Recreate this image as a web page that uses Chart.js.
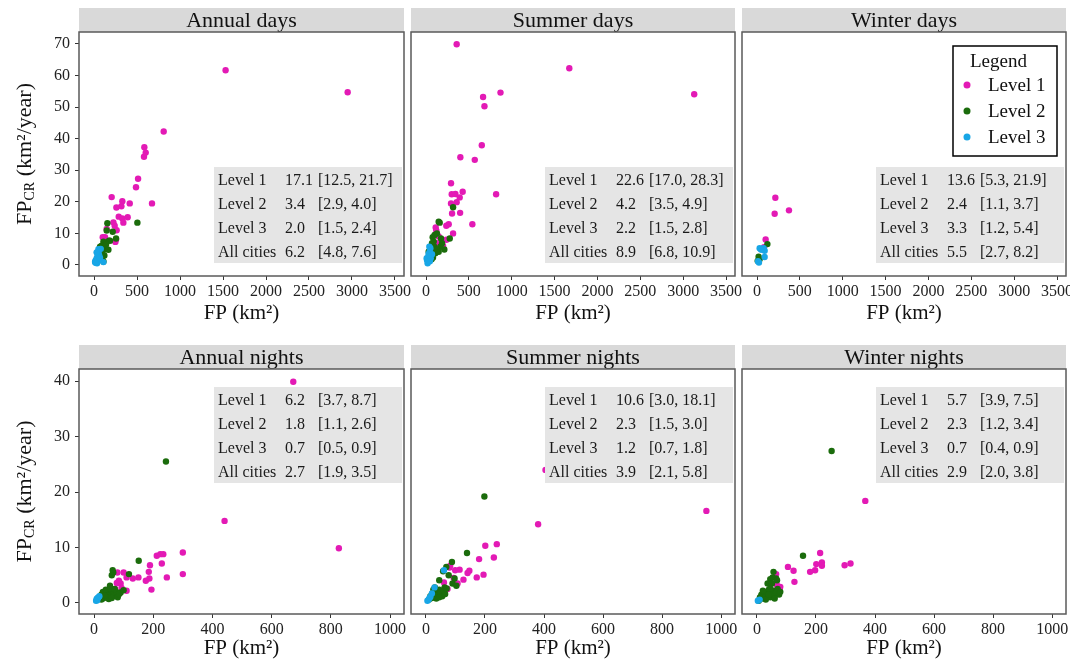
<!DOCTYPE html>
<html>
<head>
<meta charset="utf-8">
<script src="https://cdn.jsdelivr.net/npm/chart.js"></script>
<style>
  html, body { margin: 0; padding: 0; background: #fff; width: 1070px; height: 667px; overflow: hidden; position: relative; }
  canvas { position: absolute; left: 0; }
</style>
</head>
<body>
<canvas id="c0"></canvas>
<canvas id="c1"></canvas>
<canvas id="c2"></canvas>
<canvas id="c3"></canvas>
<canvas id="c4"></canvas>
<canvas id="c5"></canvas>
<script>
// --- DATA ---
const levelNames = ['Level 1', 'Level 2', 'Level 3'];
const statRows = ['Level 1', 'Level 2', 'Level 3', 'All cities'];

const xTicksDays = [0, 500, 1000, 1500, 2000, 2500, 3000, 3500];
const yTicksDays = [0, 10, 20, 30, 40, 50, 60, 70];
const xTicksNights = [0, 200, 400, 600, 800, 1000];
const yTicksNights = [0, 10, 20, 30, 40];

// points as [FP, FPcr]
const annualDaysL1 = [[1530,61.7],[2950,54.7],[810,42.3],[585,37.3],[601,35.6],[581,34.3],[512,27.3],[488,24.6],[674,19.5],[205,21.5],[329,20.2],[318,18.6],[415,19.5],[260,18.2],[287,15.3],[329,14.7],[391,15.1],[341,13.4],[225,13.5],[240,12.4],[263,11.0],[147,11.4],[128,8.8],[101,8.8],[256,8.1],[248,7.3],[81,3.7],[116,5.5],[132,5.3],[89,4.0]];
const annualDaysL2 = [[504,13.4],[155,13.2],[147,10.9],[217,10.5],[256,8.4],[174,7.7],[186,7.7],[109,7.4],[89,6.1],[128,5.0],[62,4.2],[167,4.8],[78,2.1],[109,1.1],[58,1.6],[51,2.6],[70,5.8],[89,3.2],[120,3.0],[95,2.4],[140,6.5],[60,3.6],[100,4.5]];
const annualDaysL3 = [[31,2.1],[23,0.7],[43,3.2],[54,4.2],[78,5.1],[12,1.0],[35,0.5],[58,1.6],[51,5.0],[109,0.9],[40,2.5],[20,1.5],[60,3.0],[30,4.0],[15,0.8],[70,2.2]];

const summerDaysL1 = [[358,69.9],[1672,62.3],[3129,54.1],[869,54.6],[666,53.2],[682,50.3],[651,37.9],[401,34.1],[569,33.3],[292,25.9],[300,22.4],[343,22.5],[428,23.2],[393,21.4],[358,19.9],[292,19.5],[818,22.4],[304,16.3],[398,16.5],[541,12.9],[265,12.9],[237,12.4],[113,11.9],[316,10.0],[120,10.9],[148,9.0],[187,8.0],[128,6.9],[199,6.0],[238,8.0],[109,4.8]];
const summerDaysL2 = [[316,18.3],[148,13.7],[160,13.4],[78,8.8],[128,10.0],[277,8.4],[214,4.9],[175,8.4],[70,6.9],[97,5.8],[51,4.8],[109,3.7],[148,4.2],[58,3.2],[82,2.4],[168,5.8],[187,6.9],[31,4.2],[90,7.4],[120,5.0],[65,1.8],[100,9.5]];
const summerDaysL3 = [[12,1.6],[19,0.5],[31,2.8],[43,4.2],[51,5.3],[8,2.1],[70,3.4],[23,1.0],[55,2.1],[39,5.8],[30,3.5],[45,1.2]];

const winterDaysL1 = [[214,21.3],[206,16.2],[373,17.3],[101,8.1],[82,5.6]];
const winterDaysL2 = [[121,6.6],[19,2.6],[31,1.8],[8,1.3]];
const winterDaysL3 = [[31,5.3],[78,5.3],[58,4.9],[89,4.5],[89,2.5],[12,1.2],[23,0.8],[47,4.9]];

const annualNightsL1 = [[673,39.9],[441,14.8],[827,9.85],[300,9.1],[300,5.2],[246,4.6],[194,2.4],[212,8.5],[224,8.8],[234,8.8],[229,7.1],[189,6.8],[185,5.6],[187,4.4],[175,4.0],[150,4.6],[131,4.4],[100,5.5],[79,5.5],[110,4.6],[84,4.0],[90,3.5],[77,3.6],[110,2.2],[71,2.5],[93,2.7]];
const annualNightsL2 = [[243,25.5],[151,7.6],[63,5.9],[65,5.5],[60,5.0],[118,5.2],[54,3.1],[90,1.9],[20,1.0],[25,1.5],[30,0.8],[35,1.8],[40,1.2],[45,2.0],[50,1.5],[55,1.0],[60,2.2],[65,1.6],[70,1.3],[75,2.0],[80,1.0],[85,1.6],[30,2.0],[40,2.4],[50,0.7],[55,2.6],[45,0.9],[70,2.5],[25,0.6],[35,1.3],[60,0.9],[100,2.3],[15,0.7]];
const annualNightsL3 = [[9,0.7],[11,0.5],[15,1.0],[7,0.4],[12,0.9],[18,1.2]];

const summerNightsL1 = [[405,24.0],[950,16.6],[380,14.2],[240,10.6],[201,10.3],[230,8.2],[180,7.9],[195,5.1],[147,5.8],[141,5.4],[114,6.0],[172,4.6],[127,4.2],[94,4.5],[80,6.4],[82,6.7],[61,3.7],[73,2.5],[56,2.0],[103,3.3],[107,3.5],[99,5.9]];
const summerNightsL2 = [[198,19.2],[139,9.0],[88,7.4],[69,6.5],[77,5.0],[97,4.4],[90,3.5],[103,3.1],[63,2.8],[58,5.7],[45,4.1],[10,0.6],[15,1.2],[20,0.9],[25,1.6],[30,1.1],[35,2.0],[40,1.4],[45,2.4],[50,1.8],[55,1.2],[60,2.2],[35,0.8],[25,2.4],[45,1.0],[65,1.6],[30,2.8],[70,2.6]];
const summerNightsL3 = [[61,5.9],[29,2.8],[9,0.6],[15,1.1],[20,1.7],[5,0.4],[12,0.9]];

const winterNightsL1 = [[367,18.4],[214,9.0],[220,7.3],[220,6.7],[201,7.0],[197,5.9],[180,5.6],[317,7.1],[297,6.8],[105,6.5],[124,5.8],[127,3.8],[65,5.2],[79,2.9],[77,2.3],[68,3.2],[53,2.1]];
const winterNightsL2 = [[253,27.4],[156,8.5],[56,5.6],[53,4.6],[45,4.3],[65,4.4],[36,3.5],[51,3.5],[68,4.1],[6,0.4],[10,1.0],[15,1.5],[20,0.8],[25,2.0],[30,1.2],[35,1.8],[40,2.4],[45,1.0],[50,1.6],[55,2.2],[60,1.3],[65,1.9],[70,2.5],[75,1.5],[20,2.2],[30,0.6],[45,2.6],[60,0.8],[79,2.0],[40,1.5]];
const winterNightsL3 = [[3,0.4],[9,0.6]];

// stats table: mean and 95% interval
const annualDaysMean = ['17.1', '3.4', '2.0', '6.2'];
const annualDaysCI = ['[12.5, 21.7]', '[2.9, 4.0]', '[1.5, 2.4]', '[4.8, 7.6]'];
const summerDaysMean = ['22.6', '4.2', '2.2', '8.9'];
const summerDaysCI = ['[17.0, 28.3]', '[3.5, 4.9]', '[1.5, 2.8]', '[6.8, 10.9]'];
const winterDaysMean = ['13.6', '2.4', '3.3', '5.5'];
const winterDaysCI = ['[5.3, 21.9]', '[1.1, 3.7]', '[1.2, 5.4]', '[2.7, 8.2]'];
const annualNightsMean = ['6.2', '1.8', '0.7', '2.7'];
const annualNightsCI = ['[3.7, 8.7]', '[1.1, 2.6]', '[0.5, 0.9]', '[1.9, 3.5]'];
const summerNightsMean = ['10.6', '2.3', '1.2', '3.9'];
const summerNightsCI = ['[3.0, 18.1]', '[1.5, 3.0]', '[0.7, 1.8]', '[2.1, 5.8]'];
const winterNightsMean = ['5.7', '2.3', '0.7', '2.9'];
const winterNightsCI = ['[3.9, 7.5]', '[1.2, 3.4]', '[0.4, 0.9]', '[2.0, 3.8]'];

// --- STYLE & LAYOUT ---
const FONT = "'Liberation Serif', 'Times New Roman', serif";
const COLORS = ['#E31AB5', '#1B6C0C', '#18A6E6'];
const CANVAS_W = 1090;
const colLeft = [79, 411, 742];
const colRight = [404, 735, 1066];
const rows = [
  { top: 0, height: 333, areaTop: 32, areaBottom: 276, stripTop: 8, tableTop: 167, titlePad: 7,
    xMin: -175, xMax: 3605, yMin: -3.5, yMax: 73.8, xTicks: xTicksDays, yTicks: yTicksDays },
  { top: 333, height: 334, areaTop: 36, areaBottom: 281, stripTop: 12, tableTop: 54, titlePad: 6,
    xMin: -50.7, xMax: 1047, yMin: -2.0, yMax: 42.2, xTicks: xTicksNights, yTicks: yTicksNights }
];

const panels = [
  { title: 'Annual days', row: 0, col: 0, data: [annualDaysL1, annualDaysL2, annualDaysL3], mean: annualDaysMean, ci: annualDaysCI },
  { title: 'Summer days', row: 0, col: 1, data: [summerDaysL1, summerDaysL2, summerDaysL3], mean: summerDaysMean, ci: summerDaysCI },
  { title: 'Winter days', row: 0, col: 2, data: [winterDaysL1, winterDaysL2, winterDaysL3], mean: winterDaysMean, ci: winterDaysCI, legend: true },
  { title: 'Annual nights', row: 1, col: 0, data: [annualNightsL1, annualNightsL2, annualNightsL3], mean: annualNightsMean, ci: annualNightsCI },
  { title: 'Summer nights', row: 1, col: 1, data: [summerNightsL1, summerNightsL2, summerNightsL3], mean: summerNightsMean, ci: summerNightsCI },
  { title: 'Winter nights', row: 1, col: 2, data: [winterNightsL1, winterNightsL2, winterNightsL3], mean: winterNightsMean, ci: winterNightsCI }
];

// --- PANEL DECORATION (strip, box, stats table, y title, legend) ---
function makeDecor(p, g) {
  return {
    id: 'decor' + p.row + p.col,
    beforeDraw(chart) {
      const ctx = chart.ctx, a = chart.chartArea;
      ctx.save();
      ctx.fillStyle = '#d9d9d9';
      ctx.fillRect(a.left, g.stripTop, a.right - a.left, a.top - g.stripTop);
      ctx.fillStyle = '#111';
      ctx.font = '22px ' + FONT;
      ctx.textAlign = 'center';
      ctx.textBaseline = 'middle';
      ctx.fillText(p.title, (a.left + a.right) / 2, (g.stripTop + a.top) / 2 + 1);
      ctx.restore();
    },
    afterDatasetsDraw(chart) {
      const ctx = chart.ctx, a = chart.chartArea;
      const boxL = a.right - 190;
      ctx.save();
      ctx.fillStyle = '#e5e5e5';
      ctx.fillRect(boxL, g.tableTop, 188, 96);
      ctx.fillStyle = '#1a1a1a';
      ctx.font = '16px ' + FONT;
      ctx.textBaseline = 'middle';
      statRows.forEach((name, i) => {
        const y = g.tableTop + 14 + i * 24;
        ctx.fillText(name, boxL + 4, y);
        ctx.fillText(p.mean[i], boxL + 71, y);
        ctx.fillText(p.ci[i], boxL + 104, y);
      });
      ctx.restore();
    },
    afterDraw(chart) {
      const ctx = chart.ctx, a = chart.chartArea;
      ctx.save();
      ctx.strokeStyle = '#5a5a5a';
      ctx.lineWidth = 1.5;
      ctx.strokeRect(a.left, a.top, a.right - a.left, a.bottom - a.top);

      if (p.col === 0) {
        // y title with subscript
        ctx.translate(25, (a.top + a.bottom) / 2);
        ctx.rotate(-Math.PI / 2);
        ctx.fillStyle = '#111';
        ctx.textBaseline = 'middle';
        const big = '22px ' + FONT, small = '14px ' + FONT;
        ctx.font = big; const w1 = ctx.measureText('FP').width;
        ctx.font = small; const w2 = ctx.measureText('CR').width;
        ctx.font = big; const w3 = ctx.measureText(' (km²/year)').width;
        let x = -(w1 + w2 + w3) / 2;
        ctx.font = big; ctx.fillText('FP', x, 0); x += w1;
        ctx.font = small; ctx.fillText('CR', x, 5); x += w2;
        ctx.font = big; ctx.fillText(' (km²/year)', x, 0);
      }

      if (p.legend) {
        const lx = a.left + 211, ly = a.top + 14;
        ctx.fillStyle = '#fff';
        ctx.fillRect(lx, ly, 104, 110);
        ctx.strokeStyle = '#000';
        ctx.lineWidth = 1.5;
        ctx.strokeRect(lx, ly, 104, 110);
        ctx.fillStyle = '#111';
        ctx.font = '19px ' + FONT;
        ctx.textBaseline = 'middle';
        ctx.fillText('Legend', lx + 17, ly + 16);
        levelNames.forEach((name, i) => {
          const y = ly + 39 + i * 26;
          ctx.fillStyle = COLORS[i];
          ctx.beginPath();
          ctx.arc(lx + 14, y, 3.5, 0, Math.PI * 2);
          ctx.fill();
          ctx.fillStyle = '#111';
          ctx.fillText(name, lx + 35, y + 1);
        });
      }
      ctx.restore();
    }
  };
}

// --- BUILD CHARTS ---
panels.forEach((p, idx) => {
  const g = rows[p.row];
  const canvas = document.getElementById('c' + idx);
  canvas.width = CANVAS_W;
  canvas.height = g.height;
  canvas.style.top = g.top + 'px';

  const datasets = p.data.map((pts, i) => ({
    label: levelNames[i],
    data: pts.map(d => ({ x: d[0], y: d[1] })),
    backgroundColor: COLORS[i],
    borderWidth: 0,
    pointRadius: 3.2,
    order: 3 - i
  }));

  const tickFont = { family: FONT, size: 16 };
  const plain = v => String(v);

  new Chart(canvas.getContext('2d'), {
    type: 'scatter',
    data: { datasets },
    options: {
      responsive: false,
      animation: false,
      events: [],
      layout: { padding: { left: p.col === 0 ? 0 : colLeft[p.col], right: CANVAS_W - colRight[p.col], top: g.areaTop, bottom: 0 } },
      plugins: { legend: { display: false }, tooltip: { enabled: false } },
      scales: {
        x: {
          type: 'linear', min: g.xMin, max: g.xMax,
          afterBuildTicks: s => { s.ticks = g.xTicks.map(v => ({ value: v })); },
          afterFit: s => { s.height = g.height - g.areaBottom; },
          grid: { drawOnChartArea: false, tickLength: 4, color: '#333' },
          border: { display: false },
          ticks: { font: tickFont, color: '#222', padding: 2, maxRotation: 0, autoSkip: false, callback: plain },
          title: { display: true, text: 'FP (km²)', font: { family: FONT, size: 21 }, color: '#111', padding: { top: 0, bottom: g.titlePad } }
        },
        y: {
          type: 'linear', display: p.col === 0, min: g.yMin, max: g.yMax,
          afterBuildTicks: s => { s.ticks = g.yTicks.map(v => ({ value: v })); },
          afterFit: p.col === 0 ? (s => { s.width = colLeft[0]; }) : undefined,
          grid: { drawOnChartArea: false, tickLength: 4, color: '#333' },
          border: { display: false },
          ticks: { font: tickFont, color: '#222', padding: 5, callback: plain }
        }
      }
    },
    plugins: [makeDecor(p, g)]
  });
});
</script>
</body>
</html>
